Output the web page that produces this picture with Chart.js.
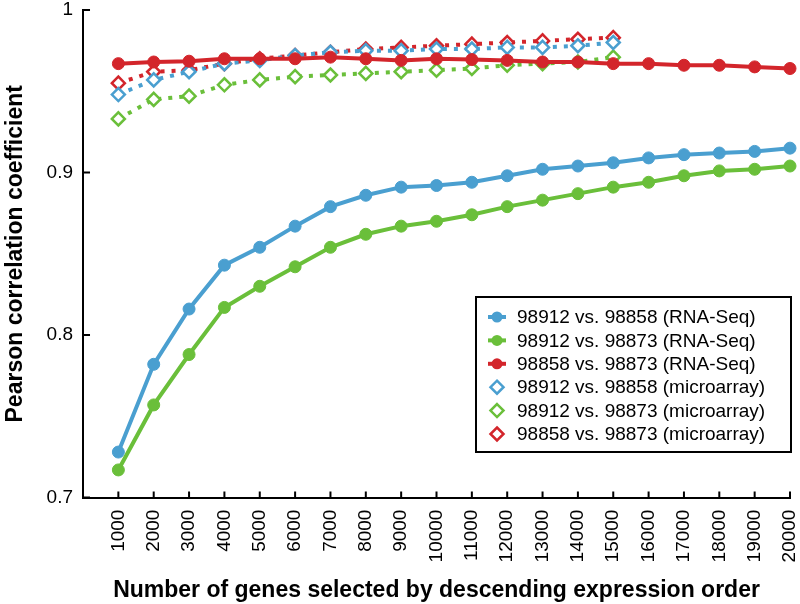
<!DOCTYPE html>
<html>
<head>
<meta charset="utf-8">
<script src="https://cdn.jsdelivr.net/npm/chart.js@4/dist/chart.umd.min.js"></script>
<style>
  html, body { margin: 0; padding: 0; background: #fff; }
  #wrap { width: 800px; height: 604px; }
</style>
</head>
<body>
<div id="wrap"><canvas id="chart" width="800" height="604"></canvas></div>
<script>
const genes = [1000, 2000, 3000, 4000, 5000, 6000, 7000, 8000, 9000, 10000,
  11000, 12000, 13000, 14000, 15000, 16000, 17000, 18000, 19000, 20000];
const yTicks = [0.7, 0.8, 0.9, 1];
const yTickLabels = ["0.7", "0.8", "0.9", "1"];

const rna_912_858 = [0.728, 0.782, 0.816, 0.843, 0.854, 0.867, 0.879, 0.886, 0.891, 0.892,
  0.894, 0.898, 0.902, 0.904, 0.906, 0.909, 0.911, 0.912, 0.913, 0.915];
const rna_912_873 = [0.717, 0.757, 0.788, 0.817, 0.830, 0.842, 0.854, 0.862, 0.867, 0.870,
  0.874, 0.879, 0.883, 0.887, 0.891, 0.894, 0.898, 0.901, 0.902, 0.904];
const rna_858_873 = [0.967, 0.968, 0.9685, 0.970, 0.970, 0.970, 0.971, 0.970, 0.969, 0.970,
  0.9695, 0.969, 0.968, 0.968, 0.967, 0.967, 0.966, 0.966, 0.965, 0.964];
const micro_912_858 = [0.948, 0.957, 0.962, 0.967, 0.969, 0.972, 0.974, 0.975, 0.975, 0.976,
  0.976, 0.977, 0.977, 0.978, 0.980];
const micro_912_873 = [0.933, 0.945, 0.947, 0.954, 0.957, 0.959, 0.960, 0.961, 0.962, 0.963,
  0.964, 0.966, 0.967, 0.968, 0.971];
const micro_858_873 = [0.955, 0.962, 0.963, 0.967, 0.970, 0.972, 0.974, 0.976, 0.977, 0.978,
  0.979, 0.980, 0.981, 0.982, 0.983];

const BLUE = "#4a9fd0", GREEN = "#6abf3a", RED = "#d3252b";
const FONT = "'Liberation Sans', Arial, Helvetica, sans-serif";

const pts = arr => arr.map((v, i) => ({ x: genes[i], y: v }));

function rnaSet(label, arr, color) {
  return {
    label, data: pts(arr), borderColor: color, backgroundColor: color,
    borderWidth: 4, pointRadius: 6, pointHoverRadius: 6, pointBorderWidth: 1,
    pointStyle: "circle", tension: 0, clip: false, order: 1, solid: true
  };
}
function microSet(label, arr, color) {
  return {
    label, data: pts(arr), borderColor: color, backgroundColor: "#fff",
    borderWidth: 4, borderDash: [4, 7], pointRadius: 6.5, pointHoverRadius: 6.5,
    pointBorderWidth: 2.5, pointStyle: "rectRot", tension: 0, clip: false, order: 2, solid: false
  };
}

const datasets = [
  rnaSet("98912 vs. 98858 (RNA-Seq)", rna_912_858, BLUE),
  rnaSet("98912 vs. 98873 (RNA-Seq)", rna_912_873, GREEN),
  rnaSet("98858 vs. 98873 (RNA-Seq)", rna_858_873, RED),
  microSet("98912 vs. 98858 (microarray)", micro_912_858, BLUE),
  microSet("98912 vs. 98873 (microarray)", micro_912_873, GREEN),
  microSet("98858 vs. 98873 (microarray)", micro_858_873, RED)
];

// inward tick marks, like the original plot
const innerTicks = {
  id: "innerTicks",
  afterDatasetsDraw(chart) {
    const { ctx, chartArea: a, scales: { x, y } } = chart;
    ctx.save();
    ctx.strokeStyle = "#000";
    ctx.lineWidth = 2;
    ctx.beginPath();
    genes.forEach(g => {
      const px = x.getPixelForValue(g);
      ctx.moveTo(px, a.bottom); ctx.lineTo(px, a.bottom - 6);
    });
    yTicks.forEach(t => {
      const py = y.getPixelForValue(t);
      ctx.moveTo(a.left, py); ctx.lineTo(a.left + 7, py);
    });
    ctx.stroke();
    ctx.restore();
  }
};

// boxed legend in the lower right of the plot
const boxLegend = {
  id: "boxLegend",
  afterDraw(chart) {
    const { ctx, chartArea: a } = chart;
    const w = 315, h = 155, rowH = 23.4;
    const left = a.right + 1 - w, top = a.top + 287;
    ctx.save();
    ctx.fillStyle = "#fff";
    ctx.fillRect(left, top, w, h);
    ctx.strokeStyle = "#000";
    ctx.lineWidth = 2;
    ctx.strokeRect(left, top, w, h);
    ctx.font = "19px " + FONT;
    ctx.textBaseline = "middle";
    chart.data.datasets.forEach((ds, i) => {
      const cy = top + 20 + i * rowH, cx = left + 21;
      ctx.strokeStyle = ds.borderColor;
      if (ds.solid) {
        ctx.lineWidth = 4;
        ctx.beginPath(); ctx.moveTo(cx - 9, cy); ctx.lineTo(cx + 9, cy); ctx.stroke();
        ctx.fillStyle = ds.borderColor;
        ctx.beginPath(); ctx.arc(cx, cy, 5.5, 0, Math.PI * 2); ctx.fill();
      } else {
        ctx.lineWidth = 2.5;
        ctx.fillStyle = "#fff";
        ctx.beginPath();
        ctx.moveTo(cx, cy - 6.5); ctx.lineTo(cx + 6.5, cy); ctx.lineTo(cx, cy + 6.5); ctx.lineTo(cx - 6.5, cy);
        ctx.closePath(); ctx.fill(); ctx.stroke();
      }
      ctx.fillStyle = "#000";
      ctx.fillText(ds.label, left + 41, cy + 1);
    });
    ctx.restore();
  }
};

new Chart(document.getElementById("chart"), {
  type: "line",
  data: { datasets },
  options: {
    responsive: false,
    animation: false,
    events: [],
    layout: { padding: { left: 2, top: 10, right: 10, bottom: 0 } },
    plugins: { legend: { display: false }, tooltip: { enabled: false } },
    scales: {
      x: {
        type: "linear", min: 0, max: 20000,
        afterBuildTicks: s => { s.ticks = genes.map(v => ({ value: v })); },
        afterFit: s => { s.paddingLeft = 0; s.paddingRight = 0; s.height -= 8; },
        grid: { display: false, drawTicks: false },
        border: { color: "#000", width: 2 },
        ticks: {
          color: "#000", font: { family: FONT, size: 19 },
          minRotation: 90, maxRotation: 90, padding: 12,
          callback: v => String(v)
        },
        title: {
          display: true, text: "Number of genes selected by descending expression order",
          color: "#000", font: { family: FONT, size: 23, weight: "bold" },
          padding: { top: 10, bottom: 0 }
        }
      },
      y: {
        type: "linear", min: 0.7, max: 1,
        afterBuildTicks: s => { s.ticks = yTicks.map(v => ({ value: v })); },
        afterFit: s => { s.paddingTop = 0; s.paddingBottom = 0; },
        grid: { display: false, drawTicks: false },
        border: { color: "#000", width: 2 },
        ticks: {
          color: "#000", font: { family: FONT, size: 19 }, padding: 10,
          callback: v => yTickLabels[yTicks.indexOf(v)]
        },
        title: {
          display: true, text: "Pearson correlation coefficient",
          color: "#000", font: { family: FONT, size: 23, weight: "bold" },
          padding: { top: 0, bottom: 7 }
        }
      }
    }
  },
  plugins: [innerTicks, boxLegend]
});
</script>
</body>
</html>
